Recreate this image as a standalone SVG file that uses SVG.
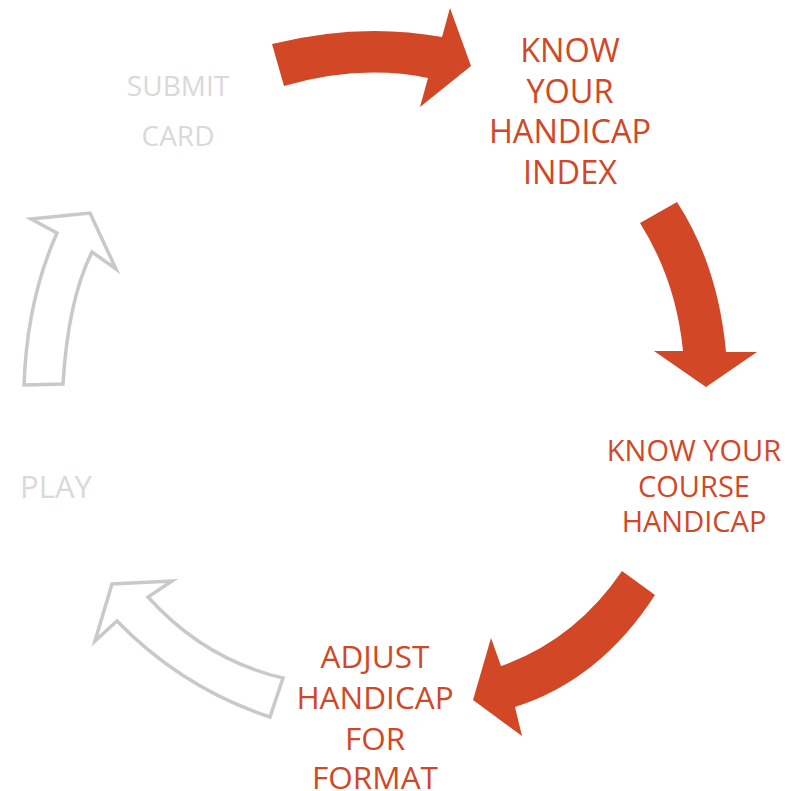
<svg xmlns="http://www.w3.org/2000/svg" width="789" height="791" viewBox="0 0 789 791">
<style>
.red{fill:#d24726;}
.grey{fill:#ffffff;stroke:#c9c9c9;stroke-width:3.5;stroke-linejoin:miter;}
text{font-family:"Open Sans","Liberation Sans",sans-serif;text-anchor:middle;}
.tr{fill:#d24726;}
.tg{fill:#d9d9d9;}
</style>
<rect width="789" height="791" fill="#ffffff"/>
<g id="connectors">
<path class="red" d="M272,44 Q360,22 442,37 L450,8 L471,66 L420,107 L428,78 Q360,64 284,86 Z"/>
<path class="red" d="M640,223 Q676,280 683,351 L654,351 L706,387 L757,352 L726,352 Q718,265 677,202 Z"/>
<path class="red" d="M622,571 L655,595 Q600,680 515,707 L522,736 L473,700 L491,638 L501,666 Q575,640 622,571 Z"/>
<path class="grey" d="M283,678 L270,717 Q182,688 117,621 L95,641 L112,584 L172,581 L148,597 Q205,660 283,678 Z"/>
<path class="grey" d="M24,385 L63,384 Q68,300 92,252 L116,269 L90,213 L31,219 L57,233 Q27,300 24,385 Z"/>
</g>
<g id="know-index">
<text class="tr" font-size="32.5" x="570" y="62">KNOW</text>
<text class="tr" font-size="32.5" x="570" y="103">YOUR</text>
<text class="tr" font-size="32.5" x="570" y="143">HANDICAP</text>
<text class="tr" font-size="32.5" x="570" y="184">INDEX</text>
</g>
<g id="know-course">
<text class="tr" font-size="29" x="694" y="461">KNOW YOUR</text>
<text class="tr" font-size="29" x="694" y="497">COURSE</text>
<text class="tr" font-size="29" x="694" y="532">HANDICAP</text>
</g>
<g id="adjust">
<text class="tr" font-size="31.5" x="375" y="668">ADJUST</text>
<text class="tr" font-size="31.5" x="375" y="709">HANDICAP</text>
<text class="tr" font-size="31.5" x="375" y="750">FOR</text>
<text class="tr" font-size="31.5" x="375" y="789">FORMAT</text>
</g>
<g id="play">
<text class="tg" font-size="31" x="56" y="498">PLAY</text>
</g>
<g id="submit">
<text class="tg" font-size="28" x="178" y="96">SUBMIT</text>
<text class="tg" font-size="28" x="178" y="146">CARD</text>
</g>
</svg>
